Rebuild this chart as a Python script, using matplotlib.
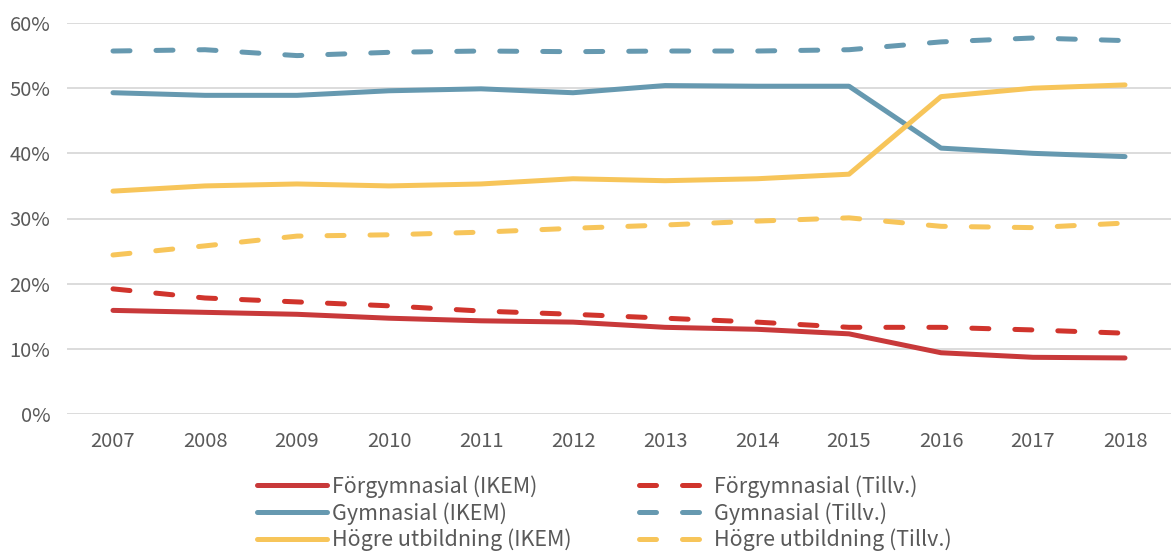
import numpy as np
import matplotlib
matplotlib.use("Agg")
import matplotlib.pyplot as plt
from matplotlib.ticker import PercentFormatter

plt.rcParams['font.family'] = ['Noto Sans CJK JP', 'DejaVu Sans']

years = ['2007', '2008', '2009', '2010', '2011', '2012',
         '2013', '2014', '2015', '2016', '2017', '2018']

forgym_ikem = [15.9, 15.6, 15.3, 14.7, 14.3, 14.1, 13.3, 13.0, 12.3, 9.4, 8.7, 8.6]
gym_ikem = [49.3, 48.9, 48.9, 49.6, 49.9, 49.3, 50.4, 50.3, 50.3, 40.8, 40.0, 39.5]
hogre_ikem = [34.2, 35.0, 35.3, 35.0, 35.3, 36.1, 35.8, 36.1, 36.8, 48.7, 50.0, 50.5]

forgym_tillv = [19.2, 17.8, 17.2, 16.6, 15.8, 15.3, 14.7, 14.1, 13.3, 13.3, 12.9, 12.4]
gym_tillv = [55.7, 55.9, 55.0, 55.5, 55.7, 55.6, 55.7, 55.7, 55.9, 57.1, 57.7, 57.3]
hogre_tillv = [24.4, 25.8, 27.3, 27.5, 27.9, 28.5, 29.0, 29.6, 30.1, 28.8, 28.6, 29.3]

red_solid = '#C8393A'
red_dash = '#D0342C'
blue = '#6699B0'
yellow = '#F7C55A'

fig = plt.figure(figsize=(11.71, 5.52), dpi=100)
ax = fig.add_axes([67 / 1171, 1 - 414 / 552, 1 - 67 / 1171, (414 - 23) / 552])

x = np.arange(len(years))
lw = 3.6
dash = (3.4, 5.2)

ax.plot(x, forgym_ikem, color=red_solid, lw=lw, solid_capstyle='round', label='Förgymnasial (IKEM)')
ax.plot(x, gym_ikem, color=blue, lw=lw, solid_capstyle='round', label='Gymnasial (IKEM)')
ax.plot(x, hogre_ikem, color=yellow, lw=lw, solid_capstyle='round', label='Högre utbildning (IKEM)')
ax.plot(x, forgym_tillv, color=red_dash, lw=lw, dashes=dash, dash_capstyle='round', label='Förgymnasial (Tillv.)')
ax.plot(x, gym_tillv, color=blue, lw=lw, dashes=dash, dash_capstyle='round', label='Gymnasial (Tillv.)')
ax.plot(x, hogre_tillv, color=yellow, lw=lw, dashes=dash, dash_capstyle='round', label='Högre utbildning (Tillv.)')

ax.set_xlim(-0.5, 11.5)
ax.set_ylim(0, 60)
ax.set_yticks(np.arange(0, 61, 10))
ax.yaxis.set_major_formatter(PercentFormatter(decimals=0))
ax.set_xticks(x)
ax.set_xticklabels(years)

ax.grid(axis='y', color='#D9D9D9', lw=1.3)
ax.set_axisbelow(True)
for s in ax.spines.values():
    s.set_visible(False)
ax.tick_params(length=0, labelsize=14.5, labelcolor='#595959')
ax.tick_params(axis='x', pad=12)
ax.tick_params(axis='y', pad=12)

leg = fig.legend(loc='upper left', bbox_to_anchor=(257 / 1171, 1 - 475 / 552), ncol=2, frameon=False,
                 fontsize=15.5, handlelength=3.25, handletextpad=0.25, columnspacing=3.1,
                 labelspacing=0.2, borderaxespad=0, borderpad=0)
for t in leg.get_texts():
    t.set_color('#595959')

fig.savefig('out.png', dpi=100)
